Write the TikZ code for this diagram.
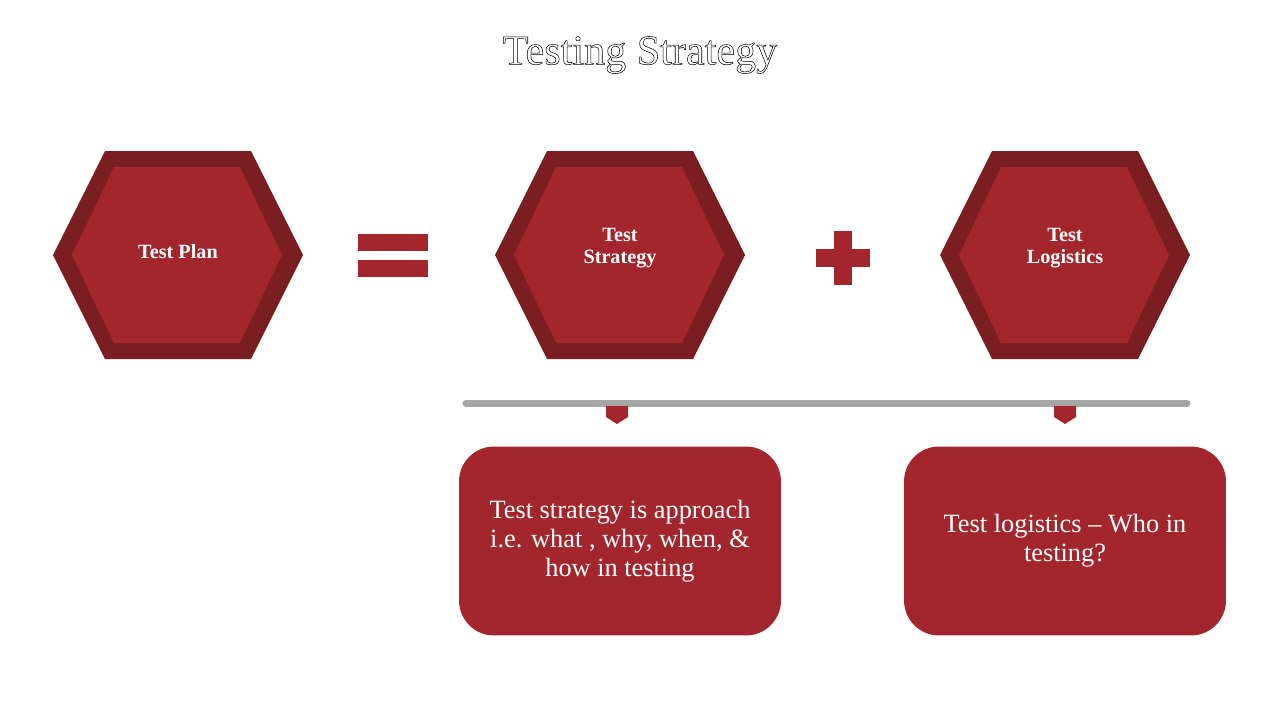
\documentclass[tikz,border=0pt]{standalone}
\usepackage{fontspec}
\setmainfont{Liberation Serif}
\definecolor{hexred}{RGB}{163,38,45}
\definecolor{hexdark}{RGB}{122,30,33}
\definecolor{railgray}{RGB}{166,166,166}
\newcommand{\hexshape}[2]{% center, fill
  \fill[hexdark] (#1) ++(-125,0) -- ++(52,-104) -- ++(146,0) -- ++(52,104) -- ++(-52,104) -- ++(-146,0) -- cycle;
  \fill[hexred] (#1) ++(-106,0) -- ++(42,-88) -- ++(126,0) -- ++(42,88) -- ++(-42,88) -- ++(-126,0) -- cycle;}
\newcommand{\outlined}[1]{\special{pdf:literal direct 1 Tr 0.3 w}#1\special{pdf:literal direct 0 Tr}}
\begin{document}
\begin{tikzpicture}
                [%%%%%%%%%%%%%%%%%%%%%%%%%%%%%%%%%%%%%%%%%%%%%%%%%%%%%%%%%%
                    x=0.02cm,y=-0.02cm,
                    hexlabel/.style={text=white,font=\bfseries\fontsize{11.5}{12.5}\selectfont,align=center},
                    infobox/.style={fill=hexred,rounded corners=0.7cm,minimum width=6.44cm,minimum height=3.78cm,
                                    text=white,align=center,font=\fontsize{15}{16.5}\selectfont},
                    bar/.style={fill=hexred}
                ]%%%%%%%%%%%%%%%%%%%%%%%%%%%%%%%%%%%%%%%%%%%%%%%%%%%%%%%%%%
                \useasboundingbox (0,0) rectangle (1280,720);
                \node (title) at (640,55) {\fontsize{24}{26}\selectfont\outlined{Testing Strategy}};

                \coordinate (c1) at (178,255);
                \coordinate (c2) at (620,255);
                \coordinate (c3) at (1065,255);
                \hexshape{c1}{}
                \hexshape{c2}{}
                \hexshape{c3}{}
                \node[hexlabel] (plan) at (178,252) {Test Plan};
                \node[hexlabel] (strategy) at (620,248) {Test\\Strategy};
                \node[hexlabel] (logistics) at (1065,248) {Test\\Logistics};

                % equals and plus
                \fill[bar] (358,234) rectangle (428,251);
                \fill[bar] (358,260) rectangle (428,277);
                \fill[bar] (834,231) rectangle (852,285);
                \fill[bar] (816,249) rectangle (870,267);

                % rail with markers
                \coordinate (railL) at (466,403);
                \coordinate (railR) at (1187,403);
                \draw[railgray,line width=0.14cm,line cap=round] (railL) -- (railR);
                \foreach \mx in {617,1065}
                    \fill[hexred] (\mx-11,406) -- (\mx+11,406) -- (\mx+11,417) -- (\mx,424) -- (\mx-11,417) -- cycle;

                \node[infobox] (stratbox) at (620,541) {Test strategy is approach\\i.e. what , why, when, \&\\how in testing};
                \node[infobox] (logbox) at (1065,541) {Test logistics -- Who in\\testing?};
            \end{tikzpicture}
\end{document}
